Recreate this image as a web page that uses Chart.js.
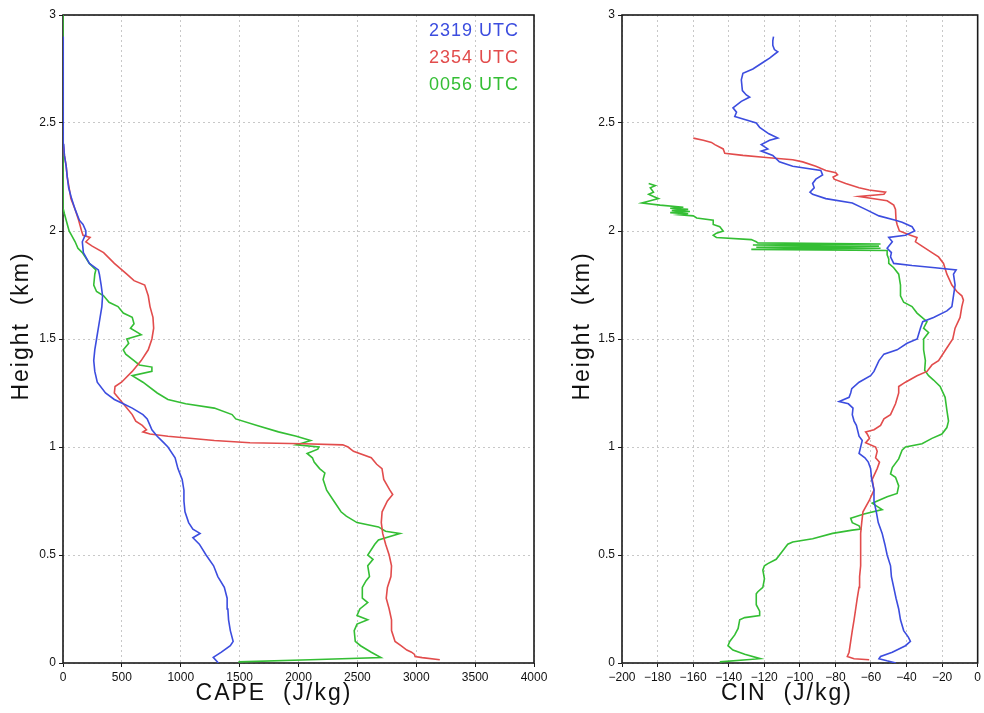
<!DOCTYPE html>
<html>
<head>
<meta charset="utf-8">
<script src="https://cdn.jsdelivr.net/npm/chart.js@4/dist/chart.umd.min.js"></script>
<style>
html,body{margin:0;padding:0;background:#fff;width:984px;height:713px;overflow:hidden}
canvas{position:absolute;top:0}
</style>
</head>
<body>
<canvas id="cape" width="554" height="713" style="left:0px"></canvas>
<canvas id="cin" width="424" height="713" style="left:560px"></canvas>
<script>
// ---------- labels / ticks ----------
const seriesLabels = ['2319 UTC', '2354 UTC', '0056 UTC'];
const seriesColors = ['#3c4ddf', '#e24c4c', '#34be34'];
const heightTicks = [0, 0.5, 1, 1.5, 2, 2.5, 3];
const capeTicks = [0, 500, 1000, 1500, 2000, 2500, 3000, 3500, 4000];
const cinTicks = [-200, -180, -160, -140, -120, -100, -80, -60, -40, -20, 0];

// ---------- CAPE, 2319 UTC ----------
const capeH2319 = [0,0.026,0.05,0.08,0.1,0.15,0.2,0.25,0.3,0.35,0.4,0.45,0.5,0.55,0.58,0.6,0.62,0.65,0.7,0.75,0.8,0.85,0.9,0.95,1.0,1.02,1.05,1.08,1.1,1.13,1.15,1.18,1.2,1.22,1.25,1.3,1.35,1.4,1.45,1.5,1.55,1.6,1.65,1.7,1.75,1.8,1.82,1.85,1.9,1.95,1.98,2.0,2.03,2.05,2.1,2.15,2.2,2.25,2.3,2.35,2.4,2.45,2.5,2.9];
const capeV2319 = [1320,1276,1345,1421,1445,1421,1406,1400,1394,1370,1315,1279,1215,1158,1103,1164,1103,1067,1036,1027,1027,1012,976,952,891,855,800,755,739,715,679,588,512,436,361,291,270,261,270,285,300,315,330,336,324,309,300,224,173,164,188,194,170,139,103,73,48,36,27,12,6,6,0,0];

// ---------- CAPE, 2354 UTC ----------
const capeH2354 = [0.015,0.025,0.03,0.04,0.05,0.06,0.08,0.1,0.15,0.2,0.25,0.3,0.35,0.4,0.45,0.5,0.55,0.6,0.65,0.7,0.75,0.78,0.8,0.85,0.88,0.9,0.92,0.95,0.98,1.0,1.01,1.015,1.02,1.03,1.05,1.06,1.07,1.08,1.1,1.12,1.15,1.2,1.25,1.28,1.3,1.35,1.4,1.45,1.5,1.55,1.6,1.65,1.7,1.75,1.77,1.8,1.85,1.9,1.93,1.95,1.97,1.98,2.0,2.05,2.1,2.15,2.2,2.25,2.3,2.35,2.4,2.43];
const capeV2354 = [3200,3050,2990,2985,2960,2920,2870,2820,2790,2790,2770,2745,2755,2785,2790,2770,2740,2715,2703,2710,2755,2800,2776,2724,2715,2709,2664,2618,2467,2421,2376,2042,1588,1285,891,739,679,709,673,618,588,512,436,442,497,588,664,724,755,770,764,739,724,694,603,542,436,345,248,194,230,170,158,133,103,67,52,36,27,12,3,0];

// ---------- CAPE, 0056 UTC ----------
const capeH0056 = [0.005,0.015,0.025,0.05,0.08,0.1,0.15,0.18,0.2,0.22,0.25,0.28,0.3,0.35,0.38,0.4,0.45,0.48,0.5,0.55,0.57,0.6,0.61,0.63,0.65,0.68,0.7,0.75,0.8,0.85,0.88,0.9,0.93,0.95,0.97,0.99,1.0,1.01,1.02,1.03,1.05,1.07,1.1,1.13,1.15,1.18,1.2,1.22,1.25,1.3,1.33,1.35,1.37,1.38,1.4,1.43,1.45,1.48,1.5,1.52,1.55,1.57,1.6,1.62,1.65,1.67,1.7,1.72,1.75,1.8,1.82,1.85,1.88,1.9,1.92,1.95,1.98,2.0,2.02,2.05,2.08,2.1,2.15,3.0];
const capeV0056 = [1490,2100,2700,2618,2527,2482,2473,2497,2588,2497,2521,2588,2542,2542,2573,2603,2588,2633,2588,2648,2679,2861,2739,2679,2497,2406,2361,2300,2239,2209,2224,2179,2133,2118,2073,2164,2173,1982,2042,2103,1982,1830,1648,1467,1436,1285,1042,891,800,679,588,755,755,648,603,533,512,558,542,664,573,603,588,512,467,391,345,285,261,270,279,224,188,164,127,103,73,52,42,27,12,3,0,0];

// ---------- CIN, 2319 UTC ----------
const cinH2319 = [0,0.01,0.02,0.03,0.05,0.08,0.1,0.12,0.15,0.2,0.25,0.3,0.35,0.4,0.45,0.5,0.55,0.6,0.65,0.7,0.75,0.8,0.85,0.9,0.93,0.95,0.97,1.0,1.03,1.05,1.1,1.12,1.15,1.18,1.2,1.21,1.23,1.25,1.27,1.3,1.33,1.35,1.4,1.43,1.45,1.48,1.5,1.55,1.58,1.6,1.63,1.65,1.7,1.75,1.8,1.82,1.83,1.84,1.85,1.88,1.9,1.92,1.95,1.97,1.98,2.0,2.02,2.04,2.05,2.07,2.1,2.13,2.15,2.17,2.18,2.2,2.22,2.24,2.26,2.28,2.3,2.32,2.35,2.37,2.38,2.4,2.42,2.43,2.45,2.48,2.5,2.53,2.55,2.57,2.6,2.62,2.63,2.65,2.7,2.73,2.75,2.78,2.8,2.83,2.84,2.86,2.88,2.9];
const cinV2319 = [-46,-51,-55.5,-54.6,-48,-40.6,-37.8,-39,-41.6,-43.4,-44.4,-45.9,-47.2,-48.5,-49,-50.9,-52.2,-53.7,-55.9,-57,-58.3,-58.3,-59.6,-60.2,-61.5,-63.4,-66.7,-65.8,-64.9,-66.7,-68.2,-69.5,-70.5,-70.1,-72.7,-77.9,-72.3,-71.4,-70.8,-66.7,-60.2,-58.3,-55.5,-52.7,-45.3,-39.7,-34,-32.2,-30.9,-24.8,-17.3,-14.5,-13.6,-12.7,-13.6,-12.1,-23.9,-36.9,-47.2,-49,-48.5,-50.9,-48,-50,-40.6,-35.4,-36.9,-42.5,-46.2,-55.5,-63,-70.5,-85.4,-92.8,-94.3,-91.9,-92.8,-91,-87.2,-88.2,-104,-111.5,-115.2,-121.7,-118,-121.7,-117,-112.4,-117.4,-122.6,-124.5,-136.6,-135.6,-137.6,-132.9,-128.2,-130.1,-132.3,-132.9,-132,-126.4,-120.8,-117,-112.4,-114.3,-115.2,-115.2,-114.8];

// ---------- CIN, 2354 UTC ----------
const cinH2354 = [0.015,0.02,0.03,0.05,0.1,0.15,0.2,0.25,0.3,0.35,0.4,0.45,0.5,0.55,0.6,0.65,0.7,0.75,0.8,0.85,0.9,0.93,0.95,0.98,1.0,1.02,1.04,1.06,1.07,1.08,1.1,1.13,1.15,1.2,1.25,1.28,1.3,1.33,1.35,1.38,1.4,1.45,1.5,1.55,1.6,1.65,1.68,1.7,1.72,1.75,1.8,1.85,1.88,1.9,1.93,1.95,1.97,1.98,2.0,2.03,2.05,2.1,2.12,2.14,2.16,2.17,2.18,2.19,2.2,2.22,2.24,2.25,2.26,2.27,2.28,2.3,2.32,2.33,2.34,2.35,2.36,2.38,2.4,2.41,2.42,2.43];
const cinV2354 = [-61,-69.5,-73.3,-72.3,-71.4,-70.5,-69.5,-68.6,-67.7,-66.7,-66.4,-65.8,-65.8,-65.8,-65.8,-65.2,-64.5,-61.1,-58.3,-59.3,-56.5,-55.2,-57.4,-56.5,-57.4,-63,-60.8,-62.1,-63,-58.3,-54.6,-52.7,-49,-46.2,-44.4,-44.4,-40.6,-34.1,-28.5,-25.7,-22,-18,-14,-12.7,-9.9,-8.9,-8,-8.9,-11.7,-14.5,-17.3,-19.2,-22,-25.7,-31.3,-35,-34.1,-37.8,-44,-45.3,-45.9,-46.2,-47.2,-50.9,-66.7,-52.7,-51.8,-61.1,-66.7,-74.2,-80.7,-81.3,-78.8,-79.8,-85.4,-91,-98.4,-104,-118.9,-132,-142.2,-143.1,-147.8,-149.7,-154.3,-159.9];

// ---------- CIN, 0056 UTC ----------
const cinH0056 = [0.005,0.02,0.04,0.06,0.08,0.1,0.13,0.16,0.2,0.21,0.22,0.24,0.27,0.32,0.33,0.35,0.39,0.43,0.45,0.46,0.48,0.52,0.55,0.56,0.575,0.6,0.615,0.62,0.635,0.65,0.67,0.69,0.71,0.73,0.74,0.77,0.785,0.82,0.86,0.875,0.905,0.945,0.985,1.0,1.015,1.04,1.06,1.09,1.12,1.17,1.23,1.28,1.31,1.33,1.355,1.4,1.45,1.5,1.53,1.55,1.58,1.6,1.62,1.65,1.67,1.7,1.75,1.8,1.83,1.85,1.87,1.89,1.91,1.915,1.92,1.925,1.93,1.935,1.94,1.945,1.95,1.96,1.97,1.98,1.99,2.0,2.02,2.03,2.05,2.06,2.07,2.075,2.08,2.085,2.09,2.095,2.1,2.105,2.11,2.12,2.13,2.14,2.15,2.16,2.17,2.18,2.2,2.21,2.22];
const cinV0056 = [-145,-122.3,-131,-137.6,-140.4,-139.4,-136.6,-134.7,-133.8,-131,-122.6,-122.6,-124.5,-124.5,-123.6,-120.8,-119.9,-120.8,-119.9,-118,-113.3,-109.6,-106.8,-104,-92.8,-81.6,-70.5,-65.8,-66.7,-70.5,-71.4,-63.9,-53.7,-57.4,-59.3,-50.9,-45.3,-44.4,-46.2,-49,-48,-44.4,-42.5,-40.6,-31.3,-25.7,-20.1,-17.3,-16.4,-17.3,-18.3,-21.1,-24.8,-27.6,-29.8,-29.4,-30.4,-30.4,-27.6,-30.4,-28.5,-31.3,-34.1,-36.9,-41.6,-43.4,-43.4,-44.4,-47.2,-50,-50,-50.9,-50.9,-127.3,-54.6,-124.5,-55.5,-126.4,-54.6,-123.6,-124.5,-127.3,-146.9,-148.7,-146.9,-143.1,-145,-148.7,-148.7,-158,-159.9,-167.4,-162.8,-172.9,-161.8,-172,-162.8,-172.9,-165.5,-178.6,-188.8,-184.1,-179.5,-182.3,-185,-182.3,-184.1,-181.3,-185];

// ---------- helpers ----------
const pairs = (vals, hs) => vals.map((v, i) => ({ x: v, y: hs[i] }));
const FONT = '"Liberation Sans", Arial, sans-serif';

function makeDatasets(list) {
  return list.map((d, i) => ({
    label: seriesLabels[i],
    data: pairs(d[0], d[1]),
    showLine: true,
    borderColor: seriesColors[i],
    backgroundColor: seriesColors[i],
    borderWidth: 1.6,
    pointRadius: 0,
    pointHoverRadius: 0,
    tension: 0,
    fill: false
  }));
}

const framePlugin = {
  id: 'frame',
  beforeDatasetsDraw(chart) {
    const { ctx, chartArea: a } = chart;
    ctx.save();
    ctx.strokeStyle = '#1a1a1a';
    ctx.lineWidth = 1.6;
    ctx.strokeRect(a.left, a.top, a.right - a.left, a.bottom - a.top);
    ctx.restore();
  }
};

function titlesPlugin(xTitle, xCenter, yCenterX) {
  return {
    id: 'axisTitles',
    afterDraw(chart) {
      const ctx = chart.ctx;
      ctx.save();
      ctx.fillStyle = '#111';
      ctx.font = '23px ' + FONT;
      try { ctx.letterSpacing = '2px'; } catch (e) {}
      ctx.textAlign = 'center';
      ctx.textBaseline = 'middle';
      ctx.fillText(xTitle, xCenter, 694);
      ctx.translate(yCenterX, 326);
      ctx.rotate(-Math.PI / 2);
      ctx.fillText('Height  (km)', 0, 0);
      ctx.restore();
    }
  };
}

const legendPlugin = {
  id: 'textLegend',
  afterDraw(chart) {
    const ctx = chart.ctx;
    ctx.save();
    ctx.font = '18px ' + FONT;
    try { ctx.letterSpacing = '1px'; } catch (e) {}
    ctx.textAlign = 'right';
    ctx.textBaseline = 'middle';
    chart.data.datasets.forEach((ds, i) => {
      ctx.fillStyle = ds.borderColor;
      ctx.fillText(ds.label, 519, 31 + i * 27);
    });
    ctx.restore();
  }
};

function scaleOpts(min, max, ticks, fmt, fitKey, fitVal) {
  return {
    type: 'linear',
    min: min, max: max,
    afterBuildTicks: s => { s.ticks = ticks.map(v => ({ value: v })); },
    afterFit: s => { s[fitKey] = fitVal; },
    grid: {
      color: '#c8c8c8',
      lineWidth: 1,
      drawTicks: true,
      tickLength: 4,
      tickColor: '#1a1a1a',
      tickWidth: 1
    },
    border: { display: false, dash: [2, 3] },
    ticks: {
      color: '#111',
      font: { family: FONT, size: 12 },
      padding: 3,
      maxRotation: 0,
      autoSkip: false,
      callback: fmt
    },
    title: { display: false }
  };
}

Chart.defaults.animation = false;

new Chart(document.getElementById('cape'), {
  type: 'scatter',
  data: { datasets: makeDatasets([[capeV2319, capeH2319], [capeV2354, capeH2354], [capeV0056, capeH0056]]) },
  options: {
    responsive: false,
    animation: false,
    devicePixelRatio: 1,
    layout: { padding: { top: 15, right: 20, bottom: 0, left: 0 } },
    plugins: { legend: { display: false }, tooltip: { enabled: false } },
    scales: {
      x: scaleOpts(0, 4000, capeTicks, v => String(v), 'height', 50),
      y: scaleOpts(0, 3, heightTicks, v => String(v), 'width', 63)
    }
  },
  plugins: [framePlugin, legendPlugin, titlesPlugin('CAPE  (J/kg)', 274, 22)]
});

new Chart(document.getElementById('cin'), {
  type: 'scatter',
  data: { datasets: makeDatasets([[cinV2319, cinH2319], [cinV2354, cinH2354], [cinV0056, cinH0056]]) },
  options: {
    responsive: false,
    animation: false,
    devicePixelRatio: 1,
    layout: { padding: { top: 15, right: 5, bottom: 0, left: 0 } },
    plugins: { legend: { display: false }, tooltip: { enabled: false } },
    scales: {
      x: scaleOpts(-200, 0, cinTicks, v => (v < 0 ? '\u2212' + Math.abs(v) : String(v)), 'height', 50),
      y: scaleOpts(0, 3, heightTicks, v => String(v), 'width', 62)
    }
  },
  plugins: [framePlugin, titlesPlugin('CIN  (J/kg)', 227, 23)]
});
</script>
</body>
</html>
